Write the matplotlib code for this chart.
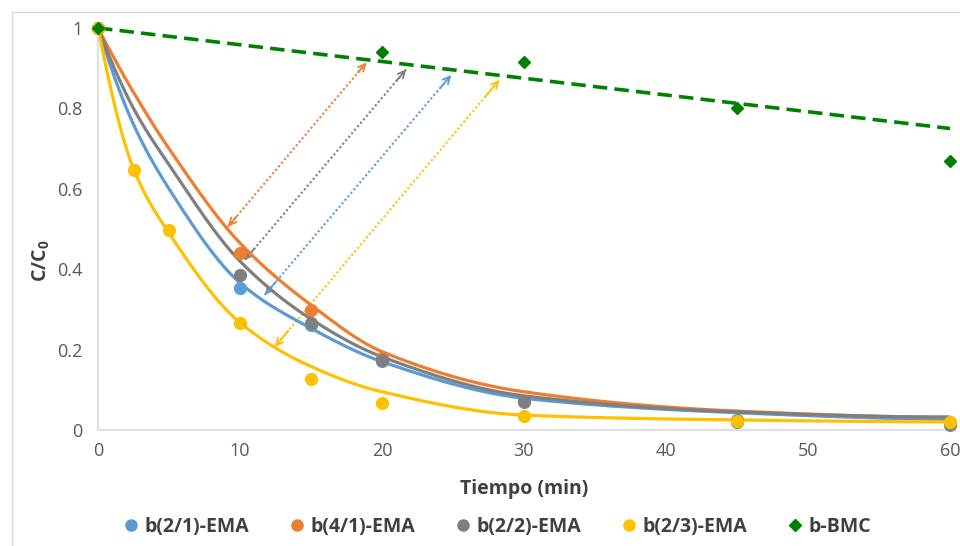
import matplotlib
matplotlib.use("Agg")
import matplotlib.pyplot as plt
import numpy as np
from matplotlib.lines import Line2D
from matplotlib.patches import Rectangle

plt.rcParams['font.family'] = ['Open Sans', 'DejaVu Sans']
plt.rcParams['mathtext.fontset'] = 'custom'
plt.rcParams['mathtext.rm'] = 'Open Sans'
plt.rcParams['mathtext.bf'] = 'Open Sans:bold'

# measured points
t_ema = [0, 10, 15, 20, 30, 45, 60]
b21 = [1.0, 0.352, 0.262, 0.172, 0.070, 0.020, 0.012]
b41 = [1.0, 0.440, 0.298, 0.180, 0.072, 0.022, 0.015]
b22 = [1.0, 0.385, 0.265, 0.175, 0.072, 0.024, 0.015]
t_b23 = [0, 2.5, 5, 10, 15, 20, 30, 45, 60]
b23 = [1.0, 0.648, 0.498, 0.265, 0.127, 0.068, 0.035, 0.022, 0.020]
t_bmc = [0, 20, 30, 45, 60]
bmc = [1.0, 0.940, 0.915, 0.800, 0.668]

# model curves
t_mod = [0, 2.5, 5, 10, 15, 20, 30, 45, 60]
mod21 = [1.0, 0.760, 0.600, 0.366, 0.253, 0.170, 0.079, 0.043, 0.026]
mod41 = [1.0, 0.840, 0.700, 0.465, 0.311, 0.195, 0.095, 0.047, 0.032]
mod22 = [1.0, 0.800, 0.660, 0.420, 0.276, 0.182, 0.085, 0.045, 0.032]
mod23 = [1.0, 0.650, 0.490, 0.267, 0.158, 0.095, 0.037, 0.025, 0.020]
t_bmc_fit = [0, 60]
bmc_fit = [1.0, 0.75]

labels = ['b(2/1)-EMA', 'b(4/1)-EMA', 'b(2/2)-EMA', 'b(2/3)-EMA', 'b-BMC']
colors = ['#5B9BD5', '#ED7D31', '#7F7F7F', '#FFC000', '#008000']

# (start, end) of the double arrows, in data units
arrows = [((9.16, 0.506), (18.9, 0.914)),
          ((10.34, 0.423), (21.7, 0.897)),
          ((11.74, 0.336), (24.87, 0.883)),
          ((12.45, 0.207), (28.27, 0.871))]
arrow_colors = ['#ED7D31', '#7F7F7F', '#5B9BD5', '#FFC000']


def pchip(x, y, n=40):
    # monotone cubic hermite, used only to draw a smooth line through the points
    x = np.asarray(x, float)
    y = np.asarray(y, float)
    h = np.diff(x)
    d = np.diff(y) / h
    m = np.zeros_like(y)
    for k in range(1, len(x) - 1):
        if d[k - 1] * d[k] > 0:
            w1 = 2 * h[k] + h[k - 1]
            w2 = h[k] + 2 * h[k - 1]
            m[k] = (w1 + w2) / (w1 / d[k - 1] + w2 / d[k])
    m[0] = ((2 * h[0] + h[1]) * d[0] - h[0] * d[1]) / (h[0] + h[1])
    if m[0] * d[0] <= 0:
        m[0] = 0
    elif abs(m[0]) > 3 * abs(d[0]):
        m[0] = 3 * d[0]
    m[-1] = ((2 * h[-1] + h[-2]) * d[-1] - h[-1] * d[-2]) / (h[-1] + h[-2])
    if m[-1] * d[-1] <= 0:
        m[-1] = 0
    elif abs(m[-1]) > 3 * abs(d[-1]):
        m[-1] = 3 * d[-1]
    xs, ys = [], []
    for k in range(len(x) - 1):
        s = np.linspace(0, 1, n)
        h00 = 2 * s**3 - 3 * s**2 + 1
        h10 = s**3 - 2 * s**2 + s
        h01 = -2 * s**3 + 3 * s**2
        h11 = s**3 - s**2
        xs.append(x[k] + s * h[k])
        ys.append(h00 * y[k] + h10 * h[k] * m[k] + h01 * y[k + 1] + h11 * h[k] * m[k + 1])
    return np.concatenate(xs), np.concatenate(ys)


fig = plt.figure(figsize=(9.6, 5.46), dpi=100)
fig.patches.append(Rectangle((12 / 960, -0.1), 1.2, 0.1 + 534 / 546, transform=fig.transFigure,
                             fill=False, edgecolor='#D9D9D9', lw=1))
ax = fig.add_axes([98 / 960, 116 / 546, 852 / 960, 402 / 546])

for ((x0, y0), (x1, y1)), c in zip(arrows, arrow_colors):
    ax.plot([x0, x1], [y0, y1], color=c, lw=1.5, linestyle=(0, (1, 1.2)), zorder=1)
    for (xe, ye), (xs, ys) in [((x0, y0), (x1, y1)), ((x1, y1), (x0, y0))]:
        xb = xe + 0.06 * (xs - xe)
        yb = ye + 0.06 * (ys - ye)
        ax.annotate('', xy=(xe, ye), xytext=(xb, yb),
                    arrowprops=dict(arrowstyle='->,head_length=0.5,head_width=0.25',
                                    color=c, lw=1.3, shrinkA=0, shrinkB=0), zorder=1)

for yy, c in zip([mod21, mod41, mod22, mod23], colors[:4]):
    xs, ys = pchip(t_mod, yy)
    ax.plot(xs, ys, color=c, lw=2.3, zorder=2, solid_capstyle='round')

ax.plot(t_bmc_fit, bmc_fit, color=colors[4], lw=2.6, linestyle=(0, (4, 2)), zorder=2, clip_on=False)

for tx, yy, c in [(t_ema, b21, colors[0]), (t_ema, b41, colors[1]), (t_ema, b22, colors[2]),
                  (t_b23, b23, colors[3])]:
    ax.plot(tx, yy, 'o', color=c, ms=8.5, zorder=3, clip_on=False)
ax.plot(t_bmc, bmc, 'D', color=colors[4], ms=6.5, zorder=3, clip_on=False)

ax.set_xlim(0, 60)
ax.set_ylim(0, 1)
ax.set_xticks(range(0, 61, 10))
ax.set_yticks([0, 0.2, 0.4, 0.6, 0.8, 1.0])
ax.set_yticklabels(['0', '0.2', '0.4', '0.6', '0.8', '1'])
ax.tick_params(length=0, labelsize=13, labelcolor='#595959')
ax.tick_params(axis='y', pad=11)
ax.tick_params(axis='x', pad=9)
for s in ['top', 'right']:
    ax.spines[s].set_visible(False)
for s in ['left', 'bottom']:
    ax.spines[s].set_color('#D9D9D9')
    ax.spines[s].set_linewidth(1.2)

ax.set_xlabel('Tiempo (min)', fontsize=14, fontweight='bold', color='#404040', labelpad=13)
ax.set_ylabel(r'C/C$_\mathbf{0}$', fontsize=14, fontweight='bold', color='#404040')
ax.yaxis.set_label_coords(-0.054, 0.42)

handles = [Line2D([], [], marker='o', color=c, ls='none', ms=8) for c in colors[:4]]
handles.append(Line2D([], [], marker='D', color=colors[4], ls='none', ms=6))
fig.legend(handles, labels, loc='center', bbox_to_anchor=(0.516, 19 / 546), ncol=5, frameon=False,
           prop={'size': 14, 'weight': 'bold'}, labelcolor='#404040',
           handletextpad=0.1, columnspacing=1.85, handlelength=1.2)

fig.savefig('out.png', dpi=100)
